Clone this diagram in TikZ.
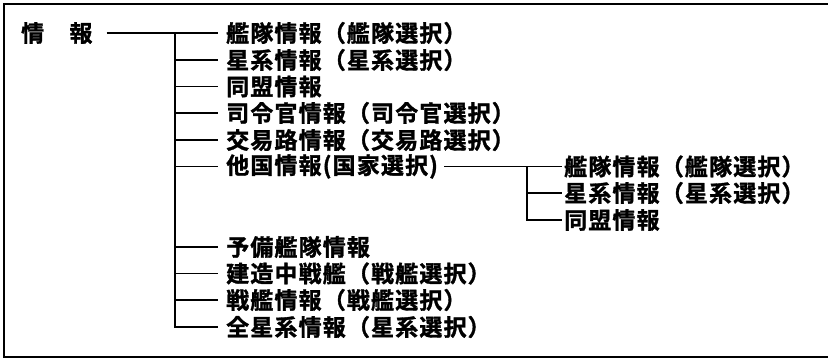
\documentclass[tikz,border=0pt]{standalone}
\usepackage{fontspec}
\setmainfont{Noto Sans CJK JP}[BoldFont={* Bold}, BoldFeatures={FakeBold=1.4}, LetterSpace=5]

\begin{document}
\begin{tikzpicture}[
  x=1pt, y=-1pt,
  item/.style={anchor=west, inner sep=0pt, font=\fontsize{23}{23}\selectfont\bfseries},
  link/.style={line width=1.9pt},
  frame/.style={line width=1.6pt}
]
  \useasboundingbox (0,0) rectangle (828,359);
  \draw[frame] (828,4) -| (4,357) -- (828,357);

  \node[item] (info) at (21,33) {情　報};

  \node[item] (fleet) at (226,33) {艦隊情報（艦隊選択）};
  \node[item] (star) at (226,60) {星系情報（星系選択）};
  \node[item] (ally) at (226,86.5) {同盟情報};
  \node[item] (cmdr) at (226,113) {司令官情報（司令官選択）};
  \node[item] (trade) at (226,140) {交易路情報（交易路選択）};
  \node[item] (other) at (226,166.5) {他国情報(国家選択)};
  \node[item] (reserve) at (226,247) {予備艦隊情報};
  \node[item] (build) at (226,273.5) {建造中戦艦（戦艦選択）};
  \node[item] (ship) at (226,300) {戦艦情報（戦艦選択）};
  \node[item] (allstar) at (226,327) {全星系情報（星系選択）};

  \node[item] (ofleet) at (564,166.5) {艦隊情報（艦隊選択）};
  \node[item] (ostar) at (564,193) {星系情報（星系選択）};
  \node[item] (oally) at (564,220) {同盟情報};

  \coordinate (trunk) at (175,33);
  \coordinate (otrunk) at (527,166.5);

  % main tree
  \draw[link, shorten <=14pt, shorten >=8pt] (info) -- (fleet);
  \draw[link, shorten >=8pt] (trunk) |- (allstar);
  \draw[link, shorten >=8pt] (trunk |- star) -- (star);
  \draw[link, shorten >=8pt] (trunk |- ally) -- (ally);
  \draw[link, shorten >=8pt] (trunk |- cmdr) -- (cmdr);
  \draw[link, shorten >=8pt] (trunk |- trade) -- (trade);
  \draw[link, shorten >=8pt] (trunk |- other) -- (other);
  \draw[link, shorten >=8pt] (trunk |- reserve) -- (reserve);
  \draw[link, shorten >=8pt] (trunk |- build) -- (build);
  \draw[link, shorten >=8pt] (trunk |- ship) -- (ship);

  % other countries
  \draw[link, shorten <=6pt, shorten >=2pt] (other) -- (ofleet);
  \draw[link, shorten >=2pt] (otrunk) |- (oally);
  \draw[link, shorten >=2pt] (otrunk |- ostar) -- (ostar);
\end{tikzpicture}
\end{document}
